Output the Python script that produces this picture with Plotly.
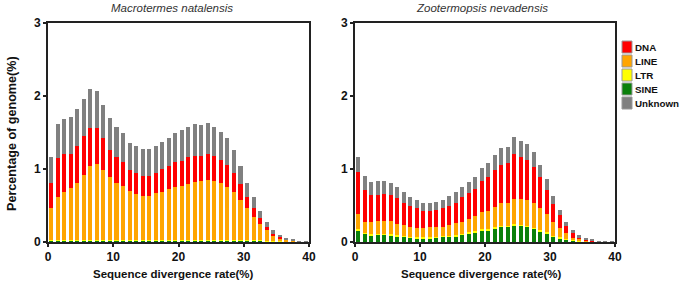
import plotly.graph_objects as go

# ---------------- data ----------------
bins = [i + 0.5 for i in range(40)]  # divergence-rate bins (0-1, 1-2, ... 39-40)

categories = ["SINE", "LTR", "LINE", "DNA", "Unknown"]
colors = {"DNA": "#FF0000", "LINE": "#FFA500", "LTR": "#FFFF00", "SINE": "#0B800B", "Unknown": "#808080"}
legend_order = ["DNA", "LINE", "LTR", "SINE", "Unknown"]

panel_titles = ["Macrotermes natalensis", "Zootermopsis nevadensis"]
x_title = "Sequence divergence rate(%)"
y_title = "Percentage of genome(%)"
x_ticks = [0, 10, 20, 30, 40]
y_ticks = [0, 1, 2, 3]

# Macrotermes natalensis
mn_sine = [0.015] * 33 + [0.01, 0.01, 0.01, 0.005, 0.003, 0, 0, 0]
mn_ltr = [0.015] * 33 + [0.01, 0.01, 0.005, 0.005, 0.002, 0, 0, 0]
mn_line = [0.43, 0.58, 0.65, 0.71, 0.78, 0.89, 1.01, 1.04, 0.96, 0.86,
           0.78, 0.74, 0.67, 0.63, 0.60, 0.60, 0.64, 0.66, 0.69, 0.72,
           0.74, 0.77, 0.79, 0.80, 0.82, 0.80, 0.78, 0.73, 0.65, 0.55,
           0.43, 0.31, 0.21, 0.14, 0.07, 0.035, 0.02, 0.01, 0.003, 0]
mn_dna = [0.35, 0.54, 0.52, 0.47, 0.51, 0.53, 0.52, 0.49, 0.43, 0.37,
          0.35, 0.33, 0.29, 0.28, 0.27, 0.28, 0.28, 0.31, 0.32, 0.35,
          0.34, 0.36, 0.36, 0.35, 0.36, 0.35, 0.31, 0.29, 0.26, 0.22,
          0.16, 0.13, 0.09, 0.05, 0.02, 0.015, 0.01, 0.005, 0.002, 0]
mn_unknown = [0.35, 0.47, 0.49, 0.50, 0.50, 0.51, 0.53, 0.51, 0.46, 0.44,
              0.41, 0.40, 0.37, 0.37, 0.38, 0.37, 0.37, 0.37, 0.38, 0.40,
              0.42, 0.42, 0.43, 0.42, 0.42, 0.40, 0.39, 0.37, 0.32, 0.24,
              0.19, 0.14, 0.10, 0.07, 0.05, 0.035, 0.02, 0.01, 0.008, 0.008]

# Zootermopsis nevadensis
zn_sine = [0.16, 0.11, 0.09, 0.10, 0.10, 0.09, 0.08, 0.07, 0.06, 0.05,
           0.05, 0.05, 0.06, 0.07, 0.07, 0.08, 0.10, 0.12, 0.13, 0.16,
           0.16, 0.19, 0.21, 0.21, 0.23, 0.22, 0.21, 0.18, 0.15, 0.12,
           0.07, 0.05, 0.03, 0.02, 0.01, 0.008, 0.004, 0, 0, 0]
zn_ltr = [0.015] * 33 + [0.01, 0.005, 0.002, 0.002, 0, 0, 0]
zn_line = [0.215, 0.155, 0.165, 0.175, 0.175, 0.185, 0.145, 0.145, 0.125, 0.125,
           0.125, 0.135, 0.125, 0.125, 0.145, 0.165, 0.165, 0.175, 0.205, 0.235,
           0.255, 0.275, 0.305, 0.305, 0.345, 0.355, 0.355, 0.345, 0.295, 0.245,
           0.185, 0.125, 0.075, 0.03, 0.02, 0.01, 0.006, 0, 0, 0]
zn_dna = [0.57, 0.43, 0.38, 0.36, 0.37, 0.36, 0.36, 0.31, 0.29, 0.27,
          0.24, 0.23, 0.24, 0.25, 0.27, 0.28, 0.33, 0.36, 0.37, 0.43,
          0.46, 0.51, 0.53, 0.55, 0.62, 0.58, 0.55, 0.49, 0.43, 0.33,
          0.25, 0.18, 0.10, 0.06, 0.03, 0.02, 0.013, 0, 0, 0]
zn_unknown = [0.21, 0.20, 0.17, 0.18, 0.17, 0.16, 0.15, 0.14, 0.12, 0.11,
              0.11, 0.11, 0.11, 0.12, 0.13, 0.14, 0.14, 0.15, 0.17, 0.18,
              0.19, 0.20, 0.23, 0.22, 0.23, 0.21, 0.21, 0.20, 0.17, 0.15,
              0.11, 0.07, 0.05, 0.04, 0.025, 0.01, 0.005, 0.008, 0.008, 0.008]

panels = [
    {"SINE": mn_sine, "LTR": mn_ltr, "LINE": mn_line, "DNA": mn_dna, "Unknown": mn_unknown},
    {"SINE": zn_sine, "LTR": zn_ltr, "LINE": zn_line, "DNA": zn_dna, "Unknown": zn_unknown},
]

# ---------------- figure ----------------
W, H = 680, 285
ML, MR, MT, MB = 48, 65, 23, 43
PW = W - ML - MR
PH = H - MT - MB


def px_x(px):
    return (px - ML) / PW


def px_y(py):
    return (H - MB - py) / PH


fig = go.Figure()
for i, data in enumerate(panels):
    xa = "x" if i == 0 else "x2"
    ya = "y" if i == 0 else "y2"
    for cat in categories:
        fig.add_trace(go.Bar(
            x=bins, y=data[cat], name=cat, xaxis=xa, yaxis=ya,
            marker=dict(color=colors[cat], line=dict(width=0)),
            width=0.62, showlegend=False,
        ))

axis_common = dict(
    showline=True, linecolor="#222", linewidth=2, mirror=True,
    ticks="outside", ticklen=3, tickwidth=1.5, tickcolor="#222",
    showgrid=False, zeroline=False,
    tickfont=dict(family="Liberation Sans, Arial", size=12, color="#111", weight="bold"),
)

fig.update_layout(
    width=W, height=H,
    margin=dict(l=ML, r=MR, t=MT, b=MB),
    paper_bgcolor="white", plot_bgcolor="white",
    barmode="stack", bargap=0,
    showlegend=False,
    xaxis=dict(domain=[0, px_x(309)], range=[0, 40], tickvals=x_ticks, **axis_common),
    yaxis=dict(range=[0, 3], tickvals=y_ticks, **axis_common),
    xaxis2=dict(domain=[px_x(355), 1], range=[0, 40], tickvals=x_ticks, anchor="y2", **axis_common),
    yaxis2=dict(range=[0, 3], tickvals=y_ticks, anchor="x2", **axis_common),
)

annotations = []
# panel titles
for cx, t in zip([172, 482], panel_titles):
    annotations.append(dict(
        text=t, x=px_x(cx), y=px_y(8), xref="paper", yref="paper",
        xanchor="center", yanchor="middle", showarrow=False,
        font=dict(family="Liberation Sans, Arial", size=11.5, color="#333", style="italic"),
    ))
# x-axis titles
for cx in [173, 481]:
    annotations.append(dict(
        text=x_title, x=px_x(cx), y=px_y(274), xref="paper", yref="paper",
        xanchor="center", yanchor="middle", showarrow=False,
        font=dict(family="Liberation Sans, Arial", size=11.5, color="#111", weight="bold"),
    ))
# y-axis title
annotations.append(dict(
    text=y_title, x=px_x(12), y=px_y(134), xref="paper", yref="paper",
    xanchor="center", yanchor="middle", showarrow=False, textangle=-90,
    font=dict(family="Liberation Sans, Arial", size=12.6, color="#111", weight="bold"),
))

# manual legend
shapes = []
for k, cat in enumerate(legend_order):
    cy = 47 + 14 * k
    shapes.append(dict(
        type="rect", xref="paper", yref="paper",
        x0=px_x(622), x1=px_x(632), y0=px_y(cy + 6), y1=px_y(cy - 6),
        fillcolor=colors[cat], line=dict(color="#999", width=1),
    ))
    annotations.append(dict(
        text=cat, x=px_x(633), y=px_y(cy), xref="paper", yref="paper",
        xanchor="left", yanchor="middle", showarrow=False,
        font=dict(family="Liberation Sans, Arial", size=9.8, color="#111", weight="bold"),
    ))

fig.update_layout(annotations=annotations, shapes=shapes)
fig.write_html(
    "out.html",
    config={"displayModeBar": False},
    post_script="document.body.style.margin='0px';document.body.style.overflow='hidden';",
)
